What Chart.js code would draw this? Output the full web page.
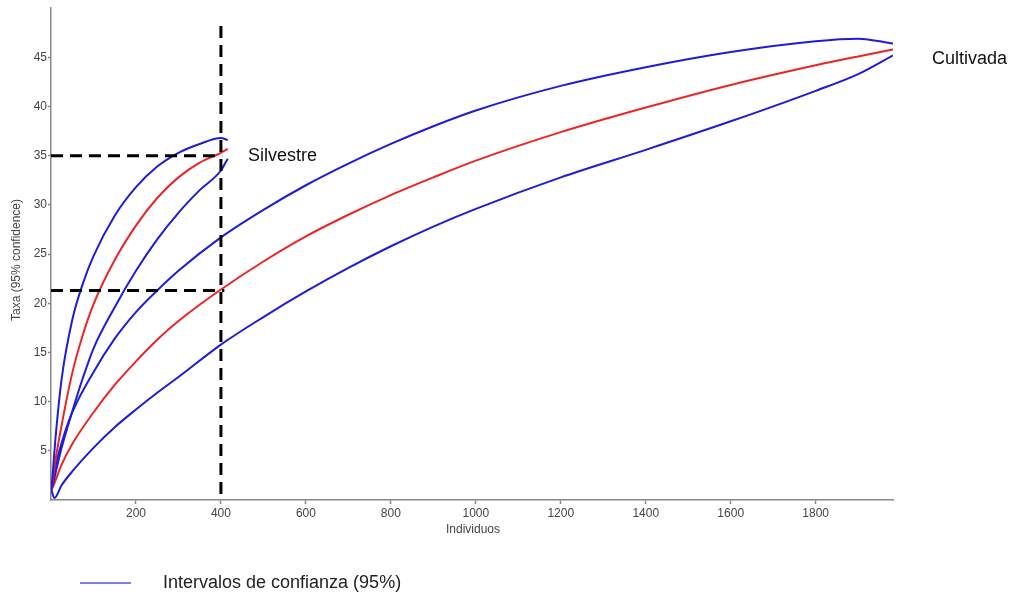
<!DOCTYPE html>
<html lang="es">
  <head>
    <meta charset="UTF-8" />
    <title>Rarefaccion</title>
    <script src="https://cdn.jsdelivr.net/npm/chart.js@4.4.0/dist/chart.umd.min.js"></script>
    <style>
      body { margin: 0; background: #fff; }
    </style>
  </head>
  <body>
    <canvas id="myChart" width="1010" height="593"></canvas>

    <script>
      // Silvestre (individuos, taxa)
      const silv_n = [1, 10, 25, 50, 75, 100, 150, 200, 250, 300, 350, 400, 416];
      const silv_upper = [1, 6.0, 12.3, 18.3, 22.0, 24.8, 28.9, 31.8, 33.9, 35.3, 36.2, 36.8, 36.6];
      const silv_mean = [1, 3.9, 7.6, 12.9, 16.8, 19.9, 24.4, 27.9, 30.7, 32.8, 34.3, 35.3, 35.7];
      const silv_lower = [1, 2.6, 5.3, 9.0, 12.4, 15.4, 19.6, 23.3, 26.5, 29.2, 31.5, 33.5, 34.7];

      // Cultivada
      const cult_n = [1, 8, 25, 50, 100, 150, 200, 250, 300, 400, 500, 600, 700, 800, 900, 1000, 1200, 1400, 1600, 1800, 1900, 1982];
      const cult_upper = [1, 2.9, 5.8, 8.9, 13.0, 16.4, 19.1, 21.3, 23.3, 26.7, 29.5, 32.0, 34.2, 36.2, 38.0, 39.6, 42.1, 44.0, 45.55, 46.65, 46.9, 46.4];
      const cult_mean = [1, 1.7, 3.6, 5.7, 8.9, 11.7, 14.1, 16.3, 18.2, 21.4, 24.25, 26.8, 29.0, 31.0, 32.8, 34.5, 37.4, 39.9, 42.2, 44.2, 45.1, 45.8];
      const cult_lower = [1, 0.2, 1.5, 2.9, 5.3, 7.4, 9.2, 10.9, 12.5, 15.8, 18.6, 21.2, 23.6, 25.8, 27.8, 29.6, 32.8, 35.6, 38.5, 41.6, 43.3, 45.2];

      // axis ticks
      const x_ticks = [200, 400, 600, 800, 1000, 1200, 1400, 1600, 1800];
      const y_ticks = [5, 10, 15, 20, 25, 30, 35, 40, 45];

      // reference lines at 400 individuos
      const ref_n = 400;
      const ref_silv = 35;
      const ref_cult = 21.3;

      const blue = "#1c1cdc";
      const red = "#ee2424";
      const font = "'Liberation Sans', Arial, sans-serif";

      function pts(xs, ys) {
        return xs.map((x, i) => ({ x: x, y: ys[i] }));
      }

      function curve(xs, ys, color) {
        return {
          data: pts(xs, ys),
          borderColor: color,
          borderWidth: 2,
          pointRadius: 0,
          showLine: true,
          cubicInterpolationMode: "monotone",
        };
      }

      function dashed(data) {
        return {
          data: data,
          borderColor: "#000",
          borderWidth: 3,
          borderDash: [12, 7],
          pointRadius: 0,
          showLine: true,
        };
      }

      const labelsPlugin = {
        id: "labels",
        afterDraw(chart) {
          const c = chart.ctx;
          c.save();
          c.fillStyle = "#444";
          c.font = "12px " + font;
          c.textAlign = "center";
          c.textBaseline = "middle";
          c.fillText("Individuos", 473, 530);
          c.save();
          c.translate(17, 260);
          c.rotate(-Math.PI / 2);
          c.fillText("Taxa (95% confidence)", 0, 0);
          c.restore();

          c.fillStyle = "#111";
          c.font = "18px " + font;
          c.textAlign = "left";
          c.fillText("Silvestre", 248, 156);
          c.fillText("Cultivada", 932, 59);

          // legend
          c.strokeStyle = "#5450e4";
          c.lineWidth = 1.5;
          c.beginPath();
          c.moveTo(80, 583);
          c.lineTo(131, 583);
          c.stroke();
          c.fillStyle = "#222";
          c.fillText("Intervalos de confianza (95%)", 163, 583);
          c.restore();
        },
      };

      const ctx = document.getElementById("myChart").getContext("2d");
      const myChart = new Chart(ctx, {
        type: "scatter",
        data: {
          datasets: [
            dashed([{ x: ref_n, y: 48.2 }, { x: ref_n, y: 0 }]),
            dashed([{ x: 0, y: ref_silv }, { x: 403, y: ref_silv }]),
            dashed([{ x: 0, y: ref_cult }, { x: 408, y: ref_cult }]),
            curve(silv_n, silv_upper, blue),
            curve(silv_n, silv_mean, red),
            curve(silv_n, silv_lower, blue),
            curve(cult_n, cult_upper, blue),
            curve(cult_n, cult_mean, red),
            curve(cult_n, cult_lower, blue),
          ],
        },
        options: {
          responsive: false,
          animation: false,
          layout: { padding: { left: 0, top: 8, right: 117, bottom: 0 } },
          plugins: { legend: { display: false }, tooltip: { enabled: false } },
          scales: {
            x: {
              type: "linear",
              position: "bottom",
              min: 0,
              max: 1982,
              afterFit: (s) => { s.height = 93; },
              afterBuildTicks: (s) => {
                s.ticks = x_ticks.map((v) => ({ value: v }));
              },
              ticks: {
                autoSkip: false,
                maxRotation: 0,
                padding: 2,
                color: "#444",
                font: { family: font, size: 12 },
                callback: (v) => String(v),
              },
              grid: { drawOnChartArea: false, tickLength: 4, color: "#888", tickWidth: 1.5 },
              border: { color: "#888", width: 1.5 },
            },
            y: {
              type: "linear",
              min: 0,
              max: 50,
              afterFit: (s) => { s.width = 51; },
              afterBuildTicks: (s) => {
                s.ticks = y_ticks.map((v) => ({ value: v }));
              },
              ticks: {
                autoSkip: false,
                padding: 1,
                color: "#444",
                font: { family: font, size: 12 },
                callback: (v) => String(v),
              },
              grid: { drawOnChartArea: false, tickLength: 3, color: "#888", tickWidth: 1.5 },
              border: { color: "#888", width: 1.5 },
            },
          },
        },
        plugins: [labelsPlugin],
      });
    </script>
  </body>
</html>
